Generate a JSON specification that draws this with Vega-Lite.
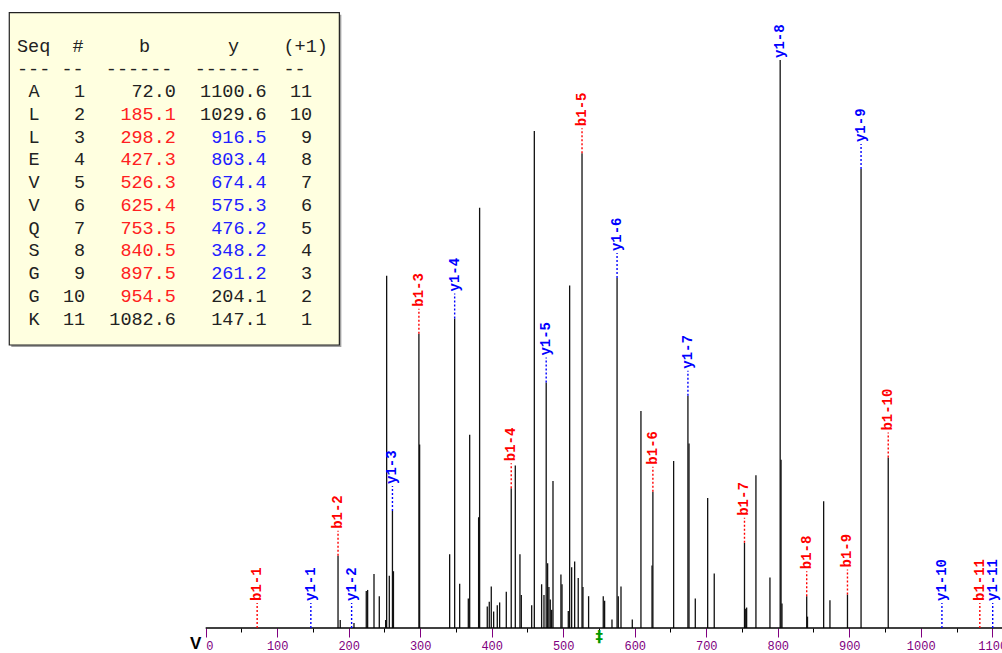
{
  "$schema": "https://vega.github.io/schema/vega-lite/v6.json",
  "width": 1002,
  "height": 628,
  "autosize": "none",
  "padding": {"left": 0, "top": 0, "right": 0, "bottom": 25},
  "background": "white",
  "config": {"view": {"stroke": null}},
  "datasets": {
    "peaks": [
      {"mz": 185.1, "intensity": 12.7}, {"mz": 188.2, "intensity": 1.4}, {"mz": 207.4, "intensity": 0.9},
      {"mz": 224.6, "intensity": 6.5}, {"mz": 226.5, "intensity": 6.7}, {"mz": 235.4, "intensity": 9.5},
      {"mz": 242.8, "intensity": 5.6}, {"mz": 251.7, "intensity": 1.4}, {"mz": 253.1, "intensity": 62.0},
      {"mz": 256.8, "intensity": 9.2}, {"mz": 261.2, "intensity": 20.6}, {"mz": 262.6, "intensity": 10.0},
      {"mz": 298.2, "intensity": 51.8}, {"mz": 299.2, "intensity": 32.3}, {"mz": 341.2, "intensity": 13.0},
      {"mz": 348.2, "intensity": 54.5}, {"mz": 355.2, "intensity": 7.8}, {"mz": 367.3, "intensity": 5.2},
      {"mz": 369.2, "intensity": 34.0}, {"mz": 381.7, "intensity": 19.5}, {"mz": 383.1, "intensity": 74.0},
      {"mz": 393.8, "intensity": 3.8}, {"mz": 396.6, "intensity": 4.6}, {"mz": 399.4, "intensity": 7.3},
      {"mz": 402.7, "intensity": 2.9}, {"mz": 407.8, "intensity": 4.0}, {"mz": 411.1, "intensity": 4.5},
      {"mz": 420.4, "intensity": 6.4}, {"mz": 427.3, "intensity": 24.6}, {"mz": 433.0, "intensity": 28.6},
      {"mz": 439.5, "intensity": 13.0}, {"mz": 441.4, "intensity": 5.8}, {"mz": 455.9, "intensity": 4.0},
      {"mz": 459.6, "intensity": 87.5}, {"mz": 469.8, "intensity": 7.7}, {"mz": 473.1, "intensity": 5.8},
      {"mz": 476.2, "intensity": 43.2}, {"mz": 478.2, "intensity": 11.4}, {"mz": 480.0, "intensity": 7.2},
      {"mz": 481.9, "intensity": 5.0}, {"mz": 483.8, "intensity": 3.2}, {"mz": 485.7, "intensity": 25.9},
      {"mz": 496.8, "intensity": 9.4}, {"mz": 498.3, "intensity": 7.7}, {"mz": 507.1, "intensity": 3.0},
      {"mz": 509.0, "intensity": 60.3}, {"mz": 511.8, "intensity": 10.7}, {"mz": 516.0, "intensity": 11.7},
      {"mz": 521.0, "intensity": 8.8}, {"mz": 526.3, "intensity": 83.6}, {"mz": 527.6, "intensity": 7.2},
      {"mz": 535.5, "intensity": 5.6}, {"mz": 556.0, "intensity": 5.6}, {"mz": 557.9, "intensity": 4.8},
      {"mz": 568.2, "intensity": 1.5}, {"mz": 575.3, "intensity": 61.6}, {"mz": 577.0, "intensity": 5.6},
      {"mz": 580.8, "intensity": 7.3}, {"mz": 596.6, "intensity": 1.5}, {"mz": 608.7, "intensity": 38.2},
      {"mz": 624.2, "intensity": 11.0}, {"mz": 625.4, "intensity": 24.0}, {"mz": 654.4, "intensity": 29.4},
      {"mz": 674.4, "intensity": 40.9}, {"mz": 675.9, "intensity": 32.5}, {"mz": 684.7, "intensity": 5.2},
      {"mz": 702.0, "intensity": 22.9}, {"mz": 711.2, "intensity": 9.6}, {"mz": 753.5, "intensity": 15.0},
      {"mz": 754.6, "intensity": 3.4}, {"mz": 756.5, "intensity": 3.6}, {"mz": 769.5, "intensity": 26.9},
      {"mz": 789.1, "intensity": 8.9}, {"mz": 803.4, "intensity": 100.0}, {"mz": 804.6, "intensity": 29.6},
      {"mz": 805.9, "intensity": 4.3}, {"mz": 840.5, "intensity": 5.6}, {"mz": 841.6, "intensity": 2.0},
      {"mz": 864.2, "intensity": 22.3}, {"mz": 873.0, "intensity": 4.9}, {"mz": 897.5, "intensity": 5.9},
      {"mz": 916.5, "intensity": 80.8}, {"mz": 954.5, "intensity": 30.0}
    ],
    "ions": [
      {"ion": "b1-1", "series": "b", "mz": 72.0, "intensity": 0},
      {"ion": "y1-1", "series": "y", "mz": 147.1, "intensity": 0},
      {"ion": "b1-2", "series": "b", "mz": 185.1, "intensity": 12.7},
      {"ion": "y1-2", "series": "y", "mz": 204.1, "intensity": 0},
      {"ion": "y1-3", "series": "y", "mz": 261.2, "intensity": 20.6},
      {"ion": "b1-3", "series": "b", "mz": 298.2, "intensity": 51.8},
      {"ion": "y1-4", "series": "y", "mz": 348.2, "intensity": 54.5},
      {"ion": "b1-4", "series": "b", "mz": 427.3, "intensity": 24.6},
      {"ion": "y1-5", "series": "y", "mz": 476.2, "intensity": 43.2},
      {"ion": "b1-5", "series": "b", "mz": 526.3, "intensity": 83.6},
      {"ion": "y1-6", "series": "y", "mz": 575.3, "intensity": 61.6},
      {"ion": "b1-6", "series": "b", "mz": 625.4, "intensity": 24.0},
      {"ion": "y1-7", "series": "y", "mz": 674.4, "intensity": 40.9},
      {"ion": "b1-7", "series": "b", "mz": 753.5, "intensity": 15.0},
      {"ion": "y1-8", "series": "y", "mz": 803.4, "intensity": 100.0},
      {"ion": "b1-8", "series": "b", "mz": 840.5, "intensity": 5.6},
      {"ion": "b1-9", "series": "b", "mz": 897.5, "intensity": 5.9},
      {"ion": "y1-9", "series": "y", "mz": 916.5, "intensity": 80.8},
      {"ion": "b1-10", "series": "b", "mz": 954.5, "intensity": 30.0},
      {"ion": "y1-10", "series": "y", "mz": 1029.6, "intensity": 0},
      {"ion": "b1-11", "series": "b", "mz": 1082.6, "intensity": 0},
      {"ion": "y1-11", "series": "y", "mz": 1100.6, "intensity": 0}
    ],
    "residues": [
      {"seq": "A", "n": 1, "b": 72.0, "y": 1100.6, "rev": 11, "b_match": false, "y_match": false},
      {"seq": "L", "n": 2, "b": 185.1, "y": 1029.6, "rev": 10, "b_match": true, "y_match": false},
      {"seq": "L", "n": 3, "b": 298.2, "y": 916.5, "rev": 9, "b_match": true, "y_match": true},
      {"seq": "E", "n": 4, "b": 427.3, "y": 803.4, "rev": 8, "b_match": true, "y_match": true},
      {"seq": "V", "n": 5, "b": 526.3, "y": 674.4, "rev": 7, "b_match": true, "y_match": true},
      {"seq": "V", "n": 6, "b": 625.4, "y": 575.3, "rev": 6, "b_match": true, "y_match": true},
      {"seq": "Q", "n": 7, "b": 753.5, "y": 476.2, "rev": 5, "b_match": true, "y_match": true},
      {"seq": "S", "n": 8, "b": 840.5, "y": 348.2, "rev": 4, "b_match": true, "y_match": true},
      {"seq": "G", "n": 9, "b": 897.5, "y": 261.2, "rev": 3, "b_match": true, "y_match": true},
      {"seq": "G", "n": 10, "b": 954.5, "y": 204.1, "rev": 2, "b_match": true, "y_match": false},
      {"seq": "K", "n": 11, "b": 1082.6, "y": 147.1, "rev": 1, "b_match": false, "y_match": false}
    ],
    "precursor": [{"mz": 550.4}]
  },
  "layer": [
    {
      "layer": [
        {
          "data": {"name": "peaks"},
          "mark": {"type": "rule", "color": "#111111", "strokeWidth": 1.3},
          "encoding": {
            "x": {
              "field": "mz", "type": "quantitative", "title": null,
              "scale": {"domain": [-287.6, 1113.6], "nice": false, "zero": false},
              "axis": {
                "orient": "bottom",
                "values": [0,25,50,75,100,125,150,175,200,225,250,275,300,325,350,375,400,425,450,475,500,525,550,575,600,625,650,675,700,725,750,775,800,825,850,875,900,925,950,975,1000,1025,1050,1075,1100],
                "domain": false, "grid": false, "title": null,
                "labelExpr": "datum.value % 100 === 0 ? format(datum.value, 'd') : ''",
                "labelOverlap": false, "labelBound": false, "labelFlush": false,
                "labelFont": "Liberation Mono", "labelFontSize": 12, "labelColor": "#800080",
                "labelAlign": {"condition": {"test": "datum.value === 0", "value": "left"}, "value": "center"},
                "labelPadding": 3,
                "tickColor": {"condition": {"test": "datum.value % 100 === 0", "value": "#800080"}, "value": "#000000"},
                "tickSize": {"condition": {"test": "datum.value % 100 === 0", "value": 9}, "value": 4},
                "tickWidth": 1
              }
            },
            "y": {"field": "intensity", "type": "quantitative", "title": null, "scale": {"domain": [0, 110.56], "nice": false}, "axis": null},
            "y2": {"datum": 0}
          }
        },
        {
          "data": {"values": [{"from": 0, "to": 1113.6}]},
          "mark": {"type": "rule", "color": "#000000", "strokeWidth": 1.5},
          "encoding": {
            "x": {"field": "from", "type": "quantitative", "title": null, "scale": {"domain": [-287.6, 1113.6], "nice": false, "zero": false}},
            "x2": {"field": "to"},
            "y": {"datum": 0, "type": "quantitative", "scale": {"domain": [0, 110.56], "nice": false}}
          }
        },
        {
          "data": {"name": "ions"},
          "transform": [{"calculate": "min(datum.intensity, 95.6)", "as": "label_at"}],
          "mark": {"type": "rule", "strokeDash": [2, 2], "strokeWidth": 1.4, "y2Offset": -25},
          "encoding": {
            "x": {"field": "mz", "type": "quantitative", "title": null, "scale": {"domain": [-287.6, 1113.6], "nice": false, "zero": false}},
            "y": {"field": "intensity", "type": "quantitative", "title": null, "scale": {"domain": [0, 110.56], "nice": false}},
            "y2": {"field": "label_at"},
            "color": {"field": "series", "type": "nominal", "scale": {"domain": ["b", "y"], "range": ["#ff0000", "#0000ff"]}, "legend": null}
          }
        },
        {
          "data": {"name": "ions"},
          "transform": [{"calculate": "min(datum.intensity, 95.6)", "as": "label_at"}],
          "mark": {"type": "text", "angle": 270, "align": "left", "baseline": "middle", "yOffset": -27, "font": "Liberation Mono", "fontWeight": "bold", "fontSize": 14},
          "encoding": {
            "x": {"field": "mz", "type": "quantitative", "title": null, "scale": {"domain": [-287.6, 1113.6], "nice": false, "zero": false}},
            "y": {"field": "label_at", "type": "quantitative", "title": null, "scale": {"domain": [0, 110.56], "nice": false}},
            "text": {"field": "ion"},
            "color": {"field": "series", "type": "nominal", "scale": {"domain": ["b", "y"], "range": ["#ff0000", "#0000ff"]}, "legend": null}
          }
        },
        {
          "data": {"name": "precursor"},
          "mark": {"type": "text", "text": "‡", "align": "center", "baseline": "middle", "dy": 9, "font": "DejaVu Sans", "fontWeight": "bold", "fontSize": 15, "color": "#009900"},
          "encoding": {
            "x": {"field": "mz", "type": "quantitative", "title": null, "scale": {"domain": [-287.6, 1113.6], "nice": false, "zero": false}},
            "y": {"datum": 0, "type": "quantitative", "scale": {"domain": [0, 110.56], "nice": false}}
          }
        },
        {
          "data": {"values": [{"mz": 0}]},
          "mark": {"type": "text", "text": "V", "align": "center", "baseline": "middle", "dx": -10, "dy": 16, "font": "Liberation Sans", "fontWeight": "bold", "fontSize": 17, "color": "#000000"},
          "encoding": {
            "x": {"field": "mz", "type": "quantitative", "title": null, "scale": {"domain": [-287.6, 1113.6], "nice": false, "zero": false}},
            "y": {"datum": 0, "type": "quantitative", "scale": {"domain": [0, 110.56], "nice": false}}
          }
        }
      ]
    },
    {
      "layer": [
        {
          "data": {"values": [{}]},
          "mark": {"type": "rect", "fill": "#a0a0a0", "xOffset": 2, "x2Offset": 2, "yOffset": 2, "y2Offset": 2},
          "encoding": {
            "x": {"datum": -0.68, "type": "quantitative", "scale": {"domain": [-1.498, 86.78], "nice": false, "zero": false}, "axis": null},
            "x2": {"datum": 28.4},
            "y": {"datum": -2.456, "type": "quantitative", "scale": {"domain": [-3.014, 24.603], "nice": false, "zero": false, "reverse": true}, "axis": null},
            "y2": {"datum": 12.157}
          }
        },
        {
          "data": {"values": [{}]},
          "mark": {"type": "rect", "fill": "#ffffe0", "stroke": "#222222", "strokeWidth": 1.2},
          "encoding": {
            "x": {"datum": -0.68, "type": "quantitative", "scale": {"domain": [-1.498, 86.78], "nice": false, "zero": false}, "axis": null},
            "x2": {"datum": 28.4},
            "y": {"datum": -2.456, "type": "quantitative", "scale": {"domain": [-3.014, 24.603], "nice": false, "zero": false, "reverse": true}, "axis": null},
            "y2": {"datum": 12.157}
          }
        },
        {
          "data": {"values": [{}]},
          "mark": {"type": "text", "text": "Seq\u00a0\u00a0#\u00a0\u00a0\u00a0\u00a0\u00a0b\u00a0\u00a0\u00a0\u00a0\u00a0\u00a0\u00a0y\u00a0\u00a0\u00a0\u00a0(+1)", "align": "left", "baseline": "middle", "font": "Liberation Mono", "fontSize": 18.5, "color": "#222222"},
          "encoding": {
            "x": {"datum": 0, "type": "quantitative", "scale": {"domain": [-1.498, 86.78], "nice": false, "zero": false}, "axis": null},
            "y": {"datum": -1, "type": "quantitative", "scale": {"domain": [-3.014, 24.603], "nice": false, "zero": false, "reverse": true}, "axis": null}
          }
        },
        {
          "data": {"values": [{}]},
          "mark": {"type": "text", "text": "---\u00a0--\u00a0\u00a0------\u00a0\u00a0------\u00a0\u00a0--", "align": "left", "baseline": "middle", "font": "Liberation Mono", "fontSize": 18.5, "color": "#222222"},
          "encoding": {
            "x": {"datum": 0, "type": "quantitative", "scale": {"domain": [-1.498, 86.78], "nice": false, "zero": false}, "axis": null},
            "y": {"datum": 0, "type": "quantitative", "scale": {"domain": [-3.014, 24.603], "nice": false, "zero": false, "reverse": true}, "axis": null}
          }
        },
        {
          "data": {"name": "residues"},
          "mark": {"type": "text", "align": "center", "baseline": "middle", "font": "Liberation Mono", "fontSize": 18.5, "color": "#222222"},
          "encoding": {
            "x": {"datum": 1.5, "type": "quantitative", "scale": {"domain": [-1.498, 86.78], "nice": false, "zero": false}, "axis": null},
            "y": {"field": "n", "type": "quantitative", "scale": {"domain": [-3.014, 24.603], "nice": false, "zero": false, "reverse": true}, "axis": null},
            "text": {"field": "seq"}
          }
        },
        {
          "data": {"name": "residues"},
          "mark": {"type": "text", "align": "right", "baseline": "middle", "font": "Liberation Mono", "fontSize": 18.5, "color": "#222222"},
          "encoding": {
            "x": {"datum": 6, "type": "quantitative", "scale": {"domain": [-1.498, 86.78], "nice": false, "zero": false}, "axis": null},
            "y": {"field": "n", "type": "quantitative", "scale": {"domain": [-3.014, 24.603], "nice": false, "zero": false, "reverse": true}, "axis": null},
            "text": {"field": "n", "type": "quantitative", "format": "d"}
          }
        },
        {
          "data": {"name": "residues"},
          "mark": {"type": "text", "align": "right", "baseline": "middle", "font": "Liberation Mono", "fontSize": 18.5},
          "encoding": {
            "x": {"datum": 14, "type": "quantitative", "scale": {"domain": [-1.498, 86.78], "nice": false, "zero": false}, "axis": null},
            "y": {"field": "n", "type": "quantitative", "scale": {"domain": [-3.014, 24.603], "nice": false, "zero": false, "reverse": true}, "axis": null},
            "text": {"field": "b", "type": "quantitative", "format": ".1f"},
            "color": {"condition": {"test": "datum.b_match", "value": "#ff2020"}, "value": "#222222"}
          }
        },
        {
          "data": {"name": "residues"},
          "mark": {"type": "text", "align": "right", "baseline": "middle", "font": "Liberation Mono", "fontSize": 18.5},
          "encoding": {
            "x": {"datum": 22, "type": "quantitative", "scale": {"domain": [-1.498, 86.78], "nice": false, "zero": false}, "axis": null},
            "y": {"field": "n", "type": "quantitative", "scale": {"domain": [-3.014, 24.603], "nice": false, "zero": false, "reverse": true}, "axis": null},
            "text": {"field": "y", "type": "quantitative", "format": ".1f"},
            "color": {"condition": {"test": "datum.y_match", "value": "#2020ff"}, "value": "#222222"}
          }
        },
        {
          "data": {"name": "residues"},
          "mark": {"type": "text", "align": "right", "baseline": "middle", "font": "Liberation Mono", "fontSize": 18.5, "color": "#222222"},
          "encoding": {
            "x": {"datum": 26, "type": "quantitative", "scale": {"domain": [-1.498, 86.78], "nice": false, "zero": false}, "axis": null},
            "y": {"field": "n", "type": "quantitative", "scale": {"domain": [-3.014, 24.603], "nice": false, "zero": false, "reverse": true}, "axis": null},
            "text": {"field": "rev", "type": "quantitative", "format": "d"}
          }
        }
      ]
    }
  ],
  "resolve": {"scale": {"x": "independent", "y": "independent"}}
}
